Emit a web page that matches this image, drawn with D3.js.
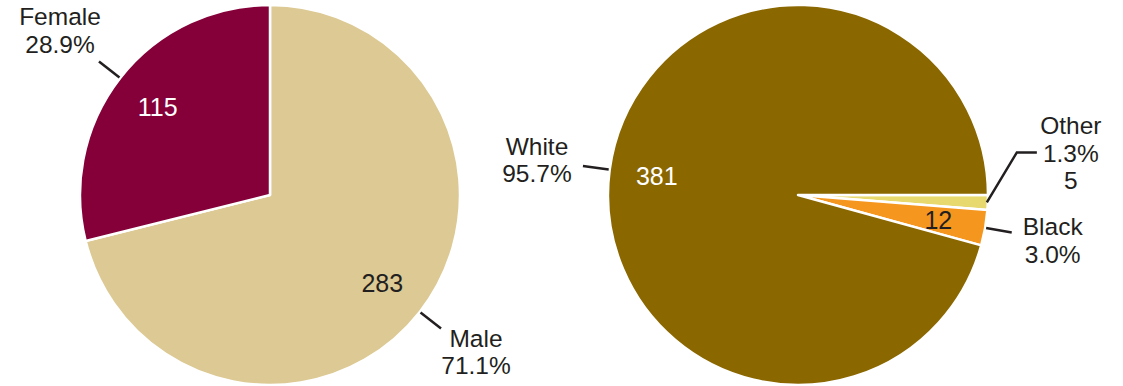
<!DOCTYPE html>
<html><head><meta charset="utf-8">
<script src="https://cdn.jsdelivr.net/npm/d3@7"></script>
<style>body{margin:0;background:#fff}svg{display:block}text{font-family:"Liberation Sans",Arial,sans-serif;font-size:25px;fill:#231f20}text.lab{font-size:24.5px}</style>
</head><body><svg width="1123" height="386"></svg>
<script>
const genderCategories = ["Male","Female"];
const genderValues = [283,115];
const genderColors = ["#dcc993","#850038"];
const raceCategories = ["Other","Black","White"];
const raceValues = [5,12,381];
const raceColors = ["#e8d96e","#f5961f","#8b6700"];

const svg = d3.select("svg");
const R = 190;
const LH = 27.5;

function fmtPct(v,t){return (v/t*100).toFixed(1)+"%";}

function drawPie(cx, cy, cats, vals, cols, startAngle, labelCfg){
  const total = d3.sum(vals);
  const data = cats.map((c,i)=>({cat:c,value:vals[i],color:cols[i]}));
  const pie = d3.pie().sort(null).value(d=>d.value).startAngle(startAngle).endAngle(startAngle+2*Math.PI);
  const arcs = pie(data);
  const arc = d3.arc().innerRadius(0).outerRadius(R);
  const g = svg.append("g").attr("transform",`translate(${cx},${cy})`);
  g.selectAll("path").data(arcs).join("path").attr("d",arc).attr("fill",d=>d.data.color)
    .attr("stroke","#fff").attr("stroke-width",2.5).attr("stroke-linejoin","round");
  const pt = (a,r)=>[Math.sin(a)*r,-Math.cos(a)*r];
  arcs.forEach(d=>{
    const cfg = labelCfg[d.data.cat];
    const mid = (d.startAngle+d.endAngle)/2;
    if(cfg.inner){
      const p = pt(mid, R*0.75);
      g.append("text").attr("x",p[0]).attr("y",p[1]).attr("text-anchor","middle").attr("dominant-baseline","central")
        .style("fill",cfg.innerColor).text(d.data.value);
    }
    const s = pt(mid,R+1), e = pt(mid,R+27);
    let pts;
    if(cfg.elbow){
      const s2 = pt(mid,R-1);
      pts=[s2,[s2[0]+30,s2[1]-50],[s2[0]+50,s2[1]-50]];
      e[0]=s2[0]+50; e[1]=s2[1]-50;
    } else pts=[s,e];
    g.append("path").attr("d",d3.line()(pts)).attr("fill","none").attr("stroke","#231f20").attr("stroke-width",2.5);
    const lines=[d.data.cat, fmtPct(d.data.value,total)];
    if(!cfg.inner) lines.push(String(d.data.value));
    lines.forEach((s,i)=>{
      g.append("text").attr("class","lab").attr("text-anchor","middle")
        .attr("x",e[0]+cfg.dx).attr("y",e[1]+cfg.dy+i*LH).text(s);
    });
  });
}

drawPie(270,195,genderCategories,genderValues,genderColors,0,{
  Male:{inner:true,innerColor:"#231f20",dx:35,dy:18},
  Female:{inner:true,innerColor:"#fff",dx:-39,dy:-36}
});
drawPie(798,195,raceCategories,raceValues,raceColors,Math.PI/2,{
  Other:{inner:false,elbow:true,dx:34,dy:-18},
  Black:{inner:true,innerColor:"#231f20",dx:41,dy:3},
  White:{inner:true,innerColor:"#fff",dx:-46,dy:-11}
});
</script></body></html>
